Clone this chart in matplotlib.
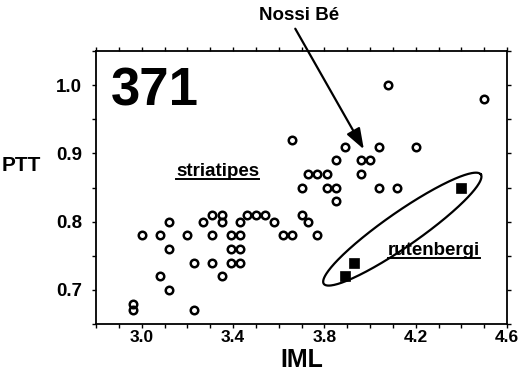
import numpy as np
import matplotlib
matplotlib.use("Agg")
import matplotlib.pyplot as plt
from matplotlib.ticker import MultipleLocator, FixedLocator
from matplotlib.lines import Line2D
from matplotlib.transforms import IdentityTransform

plt.rcParams['font.family'] = ['Liberation Sans', 'DejaVu Sans']
plt.rcParams['font.weight'] = 'bold'

# ---- data ----
striatipes_iml = [2.96, 2.96, 3.00, 3.08, 3.08, 3.12, 3.12, 3.12, 3.20, 3.23,
                  3.23, 3.27, 3.31, 3.35, 3.35, 3.31, 3.31, 3.35, 3.39, 3.43,
                  3.39, 3.43, 3.39, 3.43, 3.43, 3.46, 3.50, 3.54, 3.58, 3.62,
                  3.66, 3.70, 3.73, 3.77, 3.66, 3.89, 4.04, 4.20, 3.85, 3.96,
                  4.00, 3.96, 3.73, 3.77, 3.81, 3.70, 3.81, 3.85, 4.04, 4.12,
                  3.85, 4.08, 4.50]
striatipes_ptt = [0.68, 0.67, 0.78, 0.78, 0.72, 0.80, 0.76, 0.70, 0.78, 0.74,
                  0.67, 0.80, 0.81, 0.81, 0.80, 0.78, 0.74, 0.72, 0.78, 0.78,
                  0.76, 0.76, 0.74, 0.74, 0.80, 0.81, 0.81, 0.81, 0.80, 0.78,
                  0.78, 0.81, 0.80, 0.78, 0.92, 0.91, 0.91, 0.91, 0.89, 0.89,
                  0.89, 0.87, 0.87, 0.87, 0.87, 0.85, 0.85, 0.85, 0.85, 0.85,
                  0.83, 1.00, 0.98]
rutenbergi_iml = [3.89, 3.93, 4.40]
rutenbergi_ptt = [0.72, 0.74, 0.85]

x_ticks = [3.0, 3.4, 3.8, 4.2, 4.6]
x_tick_labels = ['3.0', '3.4', '3.8', '4.2', '4.6']
y_ticks = [0.7, 0.8, 0.9, 1.0]
y_tick_labels = ['0.7', '0.8', '0.9', '1.0']

panel_label = '371'
x_label = 'IML'
y_label = 'PTT'
group_labels = ['striatipes', 'rutenbergi']
locality_label = 'Nossi Bé'
locality_point = (3.973, 0.906)

# ellipse around rutenbergi (centre, semi-axis vectors in data units)
ell_center = (4.1415, 0.789)
ell_major = (0.344, 0.0801)
ell_minor = (0.0425, -0.0207)

# ---- figure ----
W, H = 521, 377
fig = plt.figure(figsize=(W / 100, H / 100), dpi=100)
ax = fig.add_axes([96 / W, 1 - 324 / H, 411 / W, 273 / H])

ax.plot(striatipes_iml, striatipes_ptt, linestyle='none', marker='o',
        ms=5.4, mfc='none', mec='black', mew=1.8, zorder=3)
ax.plot(rutenbergi_iml, rutenbergi_ptt, linestyle='none', marker='s',
        ms=6.8, mfc='black', mec='black', mew=0.5, zorder=3)

t = np.linspace(0, 2 * np.pi, 300)
ex = ell_center[0] + np.cos(t) * ell_major[0] + np.sin(t) * ell_minor[0]
ey = ell_center[1] + np.cos(t) * ell_major[1] + np.sin(t) * ell_minor[1]
ax.plot(ex, ey, color='black', lw=1.6, zorder=2)

ax.set_xlim(2.8, 4.6)
ax.set_ylim(0.65, 1.05)
ax.xaxis.set_major_locator(FixedLocator(x_ticks))
ax.set_xticklabels(x_tick_labels)
ax.yaxis.set_major_locator(FixedLocator(y_ticks))
ax.set_yticklabels(y_tick_labels)
ax.xaxis.set_minor_locator(MultipleLocator(0.1))
ax.yaxis.set_minor_locator(MultipleLocator(0.05))
ax.tick_params(which='both', direction='out', top=True, right=True,
               length=3, width=1, color='black')
ax.tick_params(axis='x', which='major', labelsize=12.5, pad=1.5)
ax.tick_params(axis='y', which='major', labelsize=13.5, pad=7)
for lab in ax.get_xticklabels() + ax.get_yticklabels():
    lab.set_fontweight('bold')
for sp in ax.spines.values():
    sp.set_linewidth(1.3)

ax.set_xlabel(x_label, fontsize=18, fontweight='bold', labelpad=2)
ax.set_ylabel(y_label, fontsize=15, fontweight='bold', rotation=0,
              ha='center', va='center')
ax.yaxis.set_label_coords((21 - 96) / 411, (324 - 166) / 273)

ax.text(0.036, 0.802, panel_label, transform=ax.transAxes, fontsize=38,
        fontweight='bold', ha='left', va='baseline')

t1 = ax.text(3.334, 0.8665, group_labels[0], fontsize=13.5, fontweight='bold',
             ha='center', va='baseline')
t2 = ax.text(4.281, 0.751, group_labels[1], fontsize=13.5, fontweight='bold',
             ha='center', va='baseline')

ax.annotate(locality_label, xy=locality_point, xycoords='data',
            xytext=(299.5 / W, 1 - 15 / H), textcoords='figure fraction',
            ha='center', va='center', fontsize=13.5, fontweight='bold',
            arrowprops=dict(arrowstyle='-|>,head_length=0.7,head_width=0.25',
                            color='black', lw=1.6,
                            mutation_scale=18, relpos=(0.35, 0.5),
                            shrinkA=2, shrinkB=0))

# underline the group names
fig.canvas.draw()
renderer = fig.canvas.get_renderer()
for txt in (t1, t2):
    bb = txt.get_window_extent(renderer)
    _, yb = ax.transData.transform(txt.get_position())
    fig.add_artist(Line2D([bb.x0, bb.x1], [yb - 2.5, yb - 2.5],
                          transform=IdentityTransform(), color='black', lw=1.4))

fig.savefig('out.png', dpi=100)
